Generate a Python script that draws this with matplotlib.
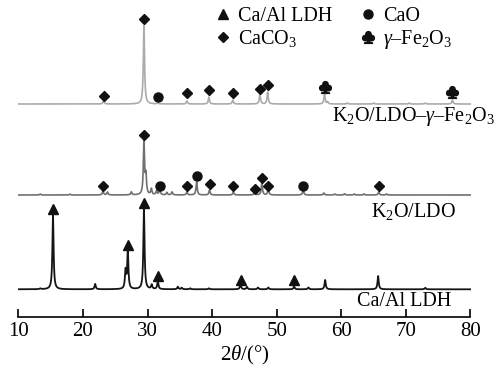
import numpy as np
import matplotlib
matplotlib.use('Agg')
import matplotlib.pyplot as plt
from matplotlib.lines import Line2D

plt.rcParams['font.family'] = ['Liberation Serif', 'DejaVu Serif']
plt.rcParams['mathtext.fontset'] = 'custom'
plt.rcParams['mathtext.rm'] = 'Liberation Serif'
plt.rcParams['mathtext.it'] = 'Liberation Serif:italic'

# ---- peak tables (2theta, intensity in a.u.) ----
# Ca/Al LDH (bottom, black)
ldh_base = 27.2
ldh_pos = [13.4, 15.37, 21.9, 26.6, 26.95, 29.45, 30.65, 31.6, 34.7, 35.3,
           36.6, 39.5, 44.4, 45.4, 47.1, 48.7, 52.7, 54.9, 57.5, 65.7, 73.0]
ldh_hgt = [0.8, 74.3, 5.3, 18.0, 38.5, 80.3, 4.3, 8.3, 2.5, 1.5,
           1.0, 1.0, 5.0, 2.5, 1.8, 1.8, 2.8, 1.8, 9.3, 13.3, 1.5]
ldh_tri_x = [15.37, 26.95, 29.45, 31.6, 44.4, 52.7]
ldh_tri_y = [107.5, 72.0, 113.5, 40.5, 36.5, 36.5]

# K2O/LDO (middle, grey)
ldo_base = 121.5
ldo_pos = [13.4, 18.0, 23.1, 23.8, 27.5, 29.45, 29.75, 30.6, 31.4, 31.9,
           33.0, 33.8, 36.1, 37.6, 39.6, 43.3, 46.6, 47.7, 48.7, 54.1,
           57.3, 59.0, 60.5, 62.0, 63.5, 65.8, 67.0]
ldo_hgt = [1.0, 0.8, 4.0, 3.0, 3.0, 53.0, 18.0, 6.0, 4.0, 6.0,
           2.5, 3.0, 3.0, 13.0, 5.0, 3.0, 3.0, 12.0, 6.0, 5.0,
           2.0, 1.0, 1.2, 1.0, 1.0, 3.0, 1.0]
ldo_dia_x = [23.1, 29.45, 36.1, 39.6, 43.3, 46.6, 47.7, 48.7, 65.8]
ldo_dia_y = [130.8, 181.5, 130.5, 132.5, 130.5, 127.2, 138.2, 130.8, 130.5]
ldo_dot_x = [31.9, 37.6, 54.1]
ldo_dot_y = [130.8, 140.5, 130.8]

# K2O/LDO-gamma-Fe2O3 (top, light grey)
fe_base = 212.5
fe_pos = [23.2, 29.45, 31.6, 36.1, 39.5, 43.2, 47.4, 48.6, 57.4, 57.9,
          60.9, 65.0, 70.5, 73.0, 77.2]
fe_hgt = [3.5, 79.0, 1.0, 3.0, 7.0, 4.0, 10.0, 12.0, 10.0, 2.0,
          1.0, 1.0, 1.0, 1.0, 4.0]
fe_dia_x = [23.2, 29.45, 36.1, 39.5, 43.2, 47.4, 48.6]
fe_dia_y = [220.5, 297.5, 223.5, 226.5, 223.5, 227.2, 231.5]
fe_dot_x = [31.6]
fe_dot_y = [219.8]
fe_club_x = [57.4, 77.2]
fe_club_y = [229.5, 224.5]

two_theta = np.linspace(10, 80, 3501)


def pattern(base, pos, hgt, w=0.11):
    y = np.full_like(two_theta, base)
    for p, h in zip(pos, hgt):
        y += h / (1 + ((two_theta - p) / w) ** 2)
    return y


fig = plt.figure(figsize=(4.97, 3.69), dpi=100)
ax = fig.add_axes([18.3 / 497, 52.5 / 369, 452.2 / 497, 311.5 / 369])

ax.plot(two_theta, pattern(ldh_base, ldh_pos, ldh_hgt), color='#151515', lw=1.3)
ax.plot(two_theta, pattern(ldo_base, ldo_pos, ldo_hgt), color='#707070', lw=1.2)
ax.plot(two_theta, pattern(fe_base, fe_pos, fe_hgt), color='#ababab', lw=1.2)

mk = dict(ls='none', color='#111111')
ax.plot(ldh_tri_x, ldh_tri_y, marker='^', ms=7, **mk)
ax.plot(ldo_dia_x, ldo_dia_y, marker='D', ms=5.5, **mk)
ax.plot(ldo_dot_x, ldo_dot_y, marker='o', ms=6.5, **mk)
ax.plot(fe_dia_x, fe_dia_y, marker='D', ms=5.5, **mk)
ax.plot(fe_dot_x, fe_dot_y, marker='o', ms=6.5, **mk)
ax.plot(fe_club_x, fe_club_y, marker=r'$\clubsuit$', ms=8.5, **mk)

ax.text(83.8, 199.5, 'K$_2$O/LDO–$\\gamma$–Fe$_2$O$_3$', fontsize=14.5,
        ha='right', va='center', clip_on=False)
ax.text(77.75, 104.5, 'K$_2$O/LDO', fontsize=14.5, ha='right', va='center')
ax.text(77.0, 15.5, 'Ca/Al LDH', fontsize=14.5, ha='right', va='center')

handles = [
    Line2D([], [], marker='^', ms=7, label='Ca/Al LDH', **mk),
    Line2D([], [], marker='D', ms=5.5, label='CaCO$_3$', **mk),
    Line2D([], [], marker='o', ms=6.5, label='CaO', **mk),
    Line2D([], [], marker=r'$\clubsuit$', ms=8.5, label='$\\gamma$–Fe$_2$O$_3$', **mk),
]
ax.legend(handles=handles, ncol=2, frameon=False, fontsize=14.5,
          loc='upper left', bbox_to_anchor=(215 / 497, 1 - 7 / 369),
          bbox_transform=fig.transFigure, borderpad=0, borderaxespad=0,
          handlelength=0.8, handletextpad=0.35, columnspacing=1.35,
          labelspacing=0.1)

ax.set_xlim(10, 80)
ax.set_ylim(0, 311.5)
ax.set_xticks([10, 20, 30, 40, 50, 60, 70, 80])
ax.set_yticks([])
for s in ['top', 'left', 'right']:
    ax.spines[s].set_visible(False)
ax.spines['bottom'].set_linewidth(1.2)
ax.tick_params(axis='x', direction='in', length=6, width=1.2, pad=4, labelsize=15)
ax.set_xlabel('2$\\theta$/(°)', fontsize=15, labelpad=2)

fig.savefig('out.png', dpi=100)
